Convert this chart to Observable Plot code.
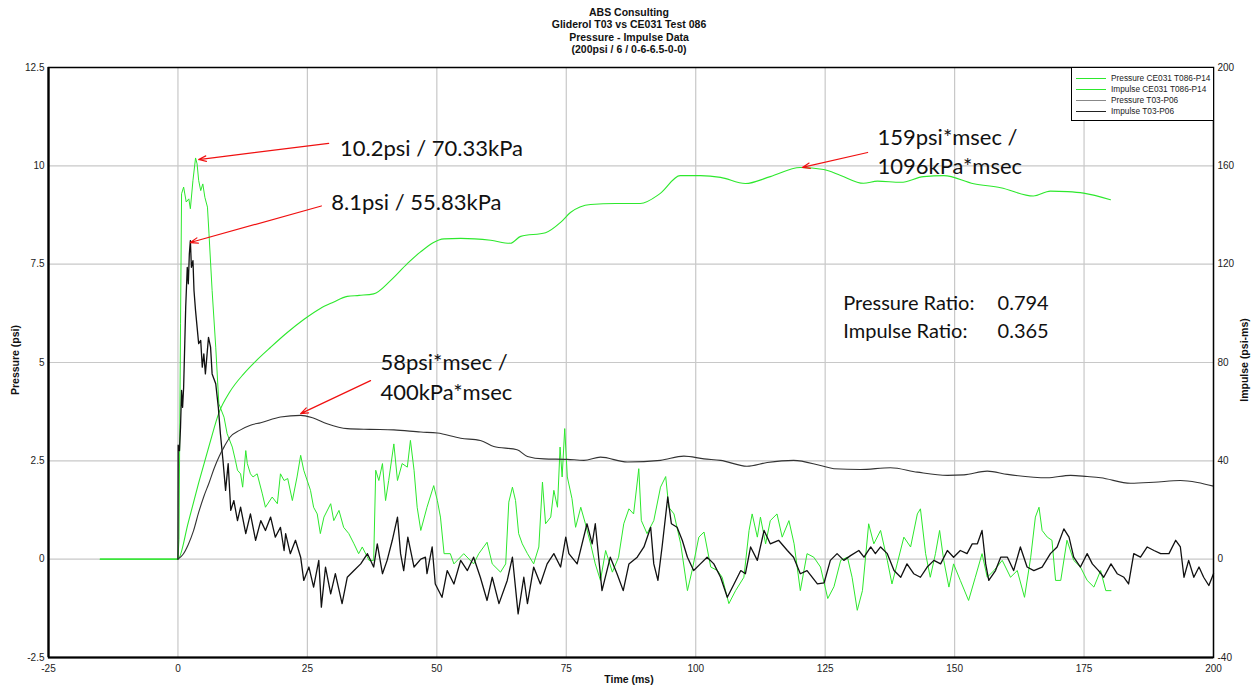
<!DOCTYPE html>
<html><head><meta charset="utf-8">
<script src="https://cdn.jsdelivr.net/npm/d3@7"></script>
<script src="https://cdn.jsdelivr.net/npm/@observablehq/plot@0.6"></script>
<style>
body{margin:0;background:#fff;font-family:"Liberation Sans",Arial,sans-serif;}
#wrap{position:relative;width:1258px;height:688px;overflow:hidden;}
#title{position:absolute;left:0;top:5.5px;width:1258px;text-align:center;font-weight:bold;font-size:10.5px;line-height:12.5px;color:#111;}
#chart{position:absolute;left:0;top:58px;}
.axlab{position:absolute;font-weight:bold;font-size:10.5px;color:#111;white-space:nowrap;}
#legend{position:absolute;left:1071px;top:67px;width:141px;height:52px;border:1px solid #000;border-right:none;background:#fff;}
.lrow{position:absolute;left:4px;width:136px;height:11px;font-size:8.3px;color:#222;white-space:nowrap;}
.lrow div.ln{position:absolute;left:0;top:5px;width:30px;height:1px;}
.lrow div.tx{position:absolute;left:35px;top:0px;}
</style></head>
<body>
<div id="wrap">
  <div id="title"></div>
  <div id="chart"></div>
  <div class="axlab" style="left:-20px;top:354px;transform:rotate(-90deg);">Pressure (psi)</div>
  <div class="axlab" style="left:1202px;top:354px;transform:rotate(-90deg);">Impulse (psi-ms)</div>
  <div class="axlab" style="left:0;width:1258px;text-align:center;top:673px;">Time (ms)</div>
  <div id="legend"></div>
</div>
<script>
const titleLines = ["ABS Consulting", "Gliderol T03 vs CE031 Test 086", "Pressure - Impulse Data", "(200psi / 6 / 0-6-6.5-0-0)"];
const xTicks = [-25, 0, 25, 50, 75, 100, 125, 150, 175, 200];
const yTicks = [-2.5, 0, 2.5, 5, 7.5, 10, 12.5];
const impulsePerPsi = 16; // right axis: -40..200 psi-ms against -2.5..12.5 psi

const legendNames = ["Pressure CE031 T086-P14", "Impulse CE031 T086-P14", "Pressure T03-P06", "Impulse T03-P06"];

// CE031 T086-P14 pressure (psi)
const ceTime = [-15,0,0.2,0.5,0.7,1.1,1.6,2.1,2.4,2.9,3.4,3.7,4.0,4.4,4.8,5.2,5.7,6.0,6.6,7.3,7.9,8.9,9.5,10.5,11.1,11.5,12.1,12.5,13.1,13.4,14.0,14.5,15.3,16.3,16.9,18.2,19.2,19.8,20.5,21.2,22.1,23.0,23.7,24.3,25.6,26.2,26.9,27.5,28.2,29.5,30.1,31.1,32.0,33.0,34.0,34.9,35.6,36.9,37.8,38.2,38.8,39.5,40.1,40.7,41.7,42.4,43.3,44.3,44.9,45.6,46.2,46.9,48.1,49.4,50.1,50.7,51.4,52.6,53.3,55.2,57.1,58.1,59.7,60.7,62.3,63.3,63.9,64.6,65.2,65.8,66.5,67.5,68.7,69.7,70.4,71.0,72.0,72.6,73.3,73.8,74.2,74.7,75.2,76.1,76.8,77.8,78.7,79.7,80.6,81.6,82.6,83.9,85.1,86.1,87.1,88.0,89.0,89.5,90.6,91.9,93.2,94.2,94.8,95.8,97.1,98.4,99.3,100.6,101.6,102.9,104.2,105.1,106.4,107.7,109.3,110.3,110.9,111.9,112.5,113.5,114.4,115.7,116.7,118.0,119.0,120.2,121.5,122.8,124.1,125.5,126.7,128.0,129.3,130.2,131.2,132.2,133.4,134.4,135.7,137.0,137.9,138.9,140.2,141.5,142.8,143.4,144.4,145.3,146.3,147.1,147.9,148.9,149.8,151.1,152.7,154.0,155.3,156.3,157.6,159.2,160.8,162.1,163.5,164.7,165.6,166.3,166.9,167.9,168.8,169.5,170.5,171.7,173.0,174.3,175.6,176.9,178.2,179.2,180.2];
const cePressure = [0,0,0.5,6,9.29,9.46,9.08,9.16,8.91,9.63,10.2,10.05,9.63,9.37,9.54,9.2,8.95,8.27,6.83,5.39,3.95,3.61,3.19,2.85,2.51,2.26,2.17,1.83,2.76,2.43,2.17,2.09,2.17,1.66,1.32,1.58,1.41,2.17,2.0,2.05,1.49,2.09,2.64,2.26,1.75,1.32,1.15,0.65,1.07,1.41,0.98,1.24,0.81,0.65,0.39,0.14,0.31,-0.03,-0.03,2.26,2.0,2.43,1.49,2.0,2.93,2.0,2.43,2.34,3.02,2.26,1.32,0.73,1.32,1.87,1.49,1.07,0.14,0.14,-0.12,0.14,-0.12,0.14,0.43,-0.12,-0.33,-0.12,1.45,1.83,1.49,0.65,0.39,0.14,-0.12,0.31,1.96,0.9,1.07,1.75,1.32,2.85,2.09,3.32,2.09,1.54,0.81,1.32,0.9,0.39,-0.12,-0.54,0.22,-0.33,0.05,0.9,1.28,1.15,2.3,0.98,0.65,0.98,1.83,2.1,1.32,1.15,0.39,-0.8,-0.29,0.56,0.69,-0.2,-0.29,-0.46,-1.13,-0.8,-0.46,0.73,1.15,0.56,1.07,0.39,0.98,1.15,0.56,0.98,0.39,-0.8,0.14,0.05,-0.2,-1.0,-0.7,-0.03,0.05,-0.46,-1.3,-0.8,0.9,0.39,0.73,-0.03,-0.63,-0.12,0.56,0.31,1.15,1.28,0.14,-0.46,0.14,0.73,-0.03,-0.71,-0.12,-0.54,-1.05,-0.46,0.14,-0.46,-0.29,-0.03,-0.46,-0.29,-0.97,0.05,1.07,1.32,0.73,0.56,0.48,-0.54,-0.54,0.48,-0.03,-0.2,-0.54,-0.71,-0.29,-0.8,-0.8];

// CE031 T086-P14 impulse (psi-ms)
const ceImpTime = [-15,0,2,4,6,8,10,12.7,15,17.9,21,24.3,27.5,30,32.7,35,37.8,41.1,44.3,46.8,51.4,54.6,60.4,64.2,66.2,71,73.9,75.8,79.7,84.5,89.3,93.1,97,100.9,104.8,109.6,114.4,120.2,124.7,128,132.4,135.1,139.6,144,147.9,153.7,158.9,165.2,168.5,171.8,174.9,180.1];
const ceImpulse = [0,0,15,31,46,60,68,75.4,80.5,86.2,92,97.5,102,104.5,106.9,107.3,107.9,113.4,120.2,124.9,130.3,130.5,129.7,128.5,131.3,132.8,137,141,144.3,144.7,144.7,148.7,156,156,155.3,152.8,155.6,159.3,158.5,156.1,152.9,153.8,153.3,155.6,156,152.7,151.1,147.7,149.7,149.5,148.9,146.2];

// T03-P06 pressure (psi)
const t03Time = [0,0.05,0.3,0.5,0.7,0.9,1.1,1.5,1.8,2.0,2.2,2.4,2.6,2.9,3.1,3.4,3.7,4.0,4.4,4.7,5.0,5.3,5.9,6.3,6.6,7.3,7.8,8.2,8.7,9.2,9.7,10.2,10.8,11.5,12.1,13.1,14.0,15.0,16.0,16.9,17.9,18.8,19.8,20.5,20.8,21.7,22.7,23.7,24.3,25.3,26.2,27.2,27.7,28.5,29.5,30.4,31.7,32.7,34.0,35.3,36.6,37.8,38.5,39.5,40.4,41.4,42.4,43.0,43.6,44.4,45.6,46.9,47.8,48.1,49.1,49.7,51.0,52.0,53.3,54.6,55.9,57.1,58.4,59.7,60.7,62.0,63.6,64.6,65.7,66.8,67.5,68.7,70.0,71.3,72.6,73.9,74.9,75.5,77.1,79.0,80.0,80.6,81.9,83.5,84.8,86.0,87.1,88.7,90.0,91.3,91.9,92.7,93.5,94.6,95.3,96.4,97.4,98.4,99.6,100.9,102.2,103.5,104.8,106.1,107.4,108.7,109.6,110.6,111.9,113.2,114.4,116.0,117.7,118.9,120.2,121.5,123.5,124.8,126.0,127.3,128.6,129.9,131.5,132.5,133.8,134.7,135.7,137.0,138.3,139.6,140.8,142.1,143.4,144.7,146.0,147.3,148.6,149.8,151.1,152.4,153.4,154.4,155.3,156.0,156.6,157.9,158.9,160.2,161.4,162.7,164.0,165.3,166.9,168.5,169.8,171.1,172.1,173.0,174.3,175.6,176.6,177.8,178.8,180.2,181.4,182.7,183.6,184.6,185.9,187.2,188.5,189.8,191.4,192.7,193.6,194.3,195.2,196.2,197.2,198.1,199.1,200];
const t03Pressure = [0,2.9,2.76,3.36,4.29,3.86,4.37,6.41,7.42,7.0,7.76,8.1,7.42,7.59,6.83,6.32,5.9,5.48,5.56,4.88,5.22,4.71,5.64,5.39,4.71,4.46,3.86,3.19,2.51,1.75,2.43,1.24,1.49,0.98,1.32,0.65,1.15,0.48,0.98,0.73,1.07,0.56,0.81,0.22,0.65,0.14,0.48,0.05,-0.54,-0.2,-0.71,-0.03,-1.22,-0.2,-0.88,-0.37,-1.13,-0.46,-0.29,-0.12,0.14,-0.2,0.39,-0.37,-0.03,0.48,1.07,0.14,-0.29,0.56,-0.2,0.0,0.05,-0.37,0.31,-0.63,-0.97,-0.29,-0.63,-0.03,-0.29,0.05,-0.46,-1.05,-0.46,-1.13,-0.54,0.05,-1.39,-0.46,-1.13,-0.2,-0.63,-0.12,0.14,-0.2,0.56,0.14,-0.12,0.9,0.39,0.9,-0.8,0.05,-0.37,-0.8,-0.12,0.05,0.31,0.81,-0.12,-0.54,0.31,1.58,0.9,0.81,0.48,0.05,-0.29,-0.12,0.05,-0.12,-0.46,-0.97,-0.63,-0.29,-0.37,0.31,-0.03,0.73,0.39,0.48,0.22,0.05,-0.37,-0.29,-0.63,-0.6,-0.03,0.14,-0.03,0.09,0.22,0.05,0.31,0.14,0.31,0.14,-0.29,-0.46,-0.12,-0.37,-0.46,-0.2,-0.03,-0.12,0.22,0.05,0.22,0.14,0.39,0.39,0.73,-0.12,-0.54,-0.29,0.05,0.05,-0.29,0.31,-0.2,-0.29,-0.2,0.14,0.31,0.77,0.56,0.05,-0.2,0.14,-0.12,-0.29,-0.46,-0.12,-0.37,-0.46,-0.63,0.14,0.05,0.31,0.22,0.14,0.14,0.48,0.31,-0.46,-0.03,-0.46,-0.2,-0.46,-0.67,-0.37];

// T03-P06 impulse (psi-ms)
const t03ImpTime = [0,1,2,3,4,5,6,7,8,9,10,12,14,16,19.8,23.7,26,28.8,32.7,37,41.7,46.9,50.1,54.6,58.4,61,65.5,67.5,70.7,75.2,78.4,81.6,86.8,93.2,97.7,101.6,104.8,109.9,113.8,118.9,124.1,126.7,131.8,137.6,142.8,148.6,151.8,156.3,160.2,167.9,172.4,175.6,178.2,184,188.5,193.6,196.9,200];
const t03Impulse = [0,2,6,11.5,19,25.5,31,37,42,46,49.5,52.5,54.5,55.5,57.8,58.5,57.5,55.1,53.1,52.8,52.6,51.7,51.3,49.2,48.3,45.8,44.5,41.8,40.8,40.6,40.2,41.5,39.5,40.2,41.9,40.8,40.2,37.8,39.3,40.2,38.1,36.8,36.5,37.2,35.4,34.1,34.3,35.8,34.5,33.1,34.1,33.6,33.1,30.9,31.3,32,31.2,29.7];

// annotations (time ms, pressure psi)
const arrowFromT = [29.1, 27.7, 37.2, 133.2];
const arrowFromP = [10.57, 8.98, 4.54, 10.34];
const arrowToT = [4.0, 2.4, 23.7, 120.6];
const arrowToP = [10.16, 8.05, 3.70, 9.96];
const noteText = ["10.2psi / 70.33kPa", "8.1psi / 55.83kPa", "58psi*msec /", "400kPa*msec", "159psi*msec /", "1096kPa*msec"];
const noteT = [31.3, 29.6, 39.1, 39.1, 135.1, 135.1];
const noteP = [10.44, 9.06, 4.98, 4.22, 10.72, 9.96];
const ratioText = ["Pressure Ratio:", "0.794", "Impulse Ratio:", "0.365"];
const ratioT = [128.5, 158.3, 128.5, 158.3];
const ratioP = [6.5, 6.5, 5.79, 5.79];

const rows = (t, v) => t.map((x, i) => ({t: x, v: v[i]}));
const cePRows = rows(ceTime, cePressure);
const ceIRows = rows(ceImpTime, ceImpulse);
const t03PRows = rows(t03Time, t03Pressure);
const t03IRows = rows(t03ImpTime, t03Impulse);
const arrows = arrowFromT.map((d, i) => ({t1: d, p1: arrowFromP[i], t2: arrowToT[i], p2: arrowToP[i]}));
const notes = noteText.map((s, i) => ({s, t: noteT[i], p: noteP[i]}));
const ratios = ratioText.map((s, i) => ({s, t: ratioT[i], p: ratioP[i]}));

const green = "#2de82d";
const chart = Plot.plot({
  width: 1258, height: 630,
  marginTop: 9, marginBottom: 31, marginLeft: 48, marginRight: 45,
  x: {domain: [-25, 200]},
  y: {domain: [-2.5, 12.5]},
  style: {fontFamily: "'Liberation Sans', Arial, sans-serif", fontSize: "10px", color: "#222", background: "#fff"},
  marks: [
    Plot.gridX(xTicks, {stroke: "#c8c8c8", strokeOpacity: 1, strokeWidth: 1.2}),
    Plot.gridY(yTicks, {stroke: "#c8c8c8", strokeOpacity: 1, strokeWidth: 1.2}),
    Plot.axisX(xTicks, {tickSize: 0, tickPadding: 7, label: null, tickFormat: d => String(d)}),
    Plot.axisY(yTicks, {anchor: "left", tickSize: 0, tickPadding: 4, label: null, tickFormat: d => String(d)}),
    Plot.axisY(yTicks, {anchor: "right", tickSize: 0, tickPadding: 4, label: null, tickFormat: d => String(d * impulsePerPsi)}),
    Plot.line(cePRows, {x: "t", y: "v", stroke: green, strokeWidth: 1}),
    Plot.line(ceIRows, {x: "t", y: d => d.v / impulsePerPsi, stroke: green, strokeWidth: 1.1, curve: "monotone-x"}),
    Plot.line(t03PRows, {x: "t", y: "v", stroke: "#111", strokeWidth: 1.3}),
    Plot.line(t03IRows, {x: "t", y: d => d.v / impulsePerPsi, stroke: "#333", strokeWidth: 1.1, curve: "monotone-x"}),
    Plot.frame({stroke: "#000", strokeWidth: 1.5}),
    Plot.ruleX([-25], {stroke: "#000", strokeWidth: 2.2}),
    Plot.ruleY([-2.5], {stroke: "#000", strokeWidth: 2.2}),
    Plot.arrow(arrows, {x1: "t1", y1: "p1", x2: "t2", y2: "p2", stroke: "#f01010", strokeWidth: 1.2, headLength: 10, headAngle: 40}),
    Plot.text(notes, {x: "t", y: "p", text: "s", textAnchor: "start", fontSize: 22, fontFamily: "Lato, 'Open Sans', sans-serif", fill: "#111"}),
    Plot.text(ratios, {x: "t", y: "p", text: "s", textAnchor: "start", fontSize: 20, fontFamily: "Lato, 'Open Sans', sans-serif", fill: "#111"})
  ]
});
document.getElementById("chart").appendChild(chart);

document.getElementById("title").innerHTML = titleLines.map(s => `<div>${s}</div>`).join("");
const legendColors = [green, green, "#888", "#222"];
document.getElementById("legend").innerHTML = legendNames.map((n, i) =>
  `<div class="lrow" style="top:${5 + i * 11}px"><div class="ln" style="background:${legendColors[i]}"></div><div class="tx">${n}</div></div>`).join("");
</script>
</body></html>
